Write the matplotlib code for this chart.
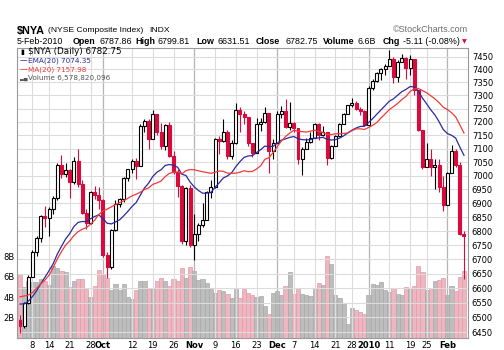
import matplotlib
matplotlib.use('Agg')
import matplotlib.pyplot as plt
from matplotlib.ticker import NullLocator, FixedLocator, FixedFormatter
import numpy as np
import pandas as pd

W, H = 504, 350

# trading days on the chart
holidays = ['2009-09-07', '2009-11-26', '2009-12-25', '2010-01-01', '2010-01-18']
dates = pd.bdate_range('2009-09-02', '2010-02-05')
dates = dates[~dates.isin(pd.to_datetime(holidays))]

# closes Aug 6 .. Sep 1 (needed for the 20-day MA at the left edge)
prior_close = [6491, 6578, 6556, 6473, 6548, 6593, 6537, 6378, 6443, 6487,
               6558, 6680, 6676, 6692, 6693, 6712, 6698, 6644, 6490]
ema_seed = 6553  # EMA(20) on Sep 1

close = [6472, 6547, 6640, 6727, 6775, 6852, 6845, 6880, 6918, 7040,
         7005, 7020, 6975, 7053, 6968, 6866, 6830, 6942, 6928, 6912,
         6716, 6672, 6802, 6898, 6915, 6990, 7023, 7055, 7036, 7185,
         7204, 7137, 7229, 7161, 7109, 7187, 7072, 7013, 6961, 6763,
         6955, 6750, 6790, 6823, 6841, 6940, 6960, 7135, 7128, 7160,
         7072, 7120, 7243, 7229, 7218, 7122, 7085, 7191, 7200, 7235,
         7090, 7120, 7230, 7240, 7180, 7195, 7175, 7060, 7100, 7125,
         7140, 7191, 7150, 7160, 7065, 7108, 7146, 7191, 7229, 7262,
         7270, 7250, 7240, 7188, 7330, 7357, 7385, 7400, 7415, 7440,
         7370, 7430, 7445, 7404, 7440, 7320, 7170, 7032, 7060, 7030,
         7040, 6958, 6895, 7010, 7090, 7040, 6787.86, 6782.75]
high = [6507, 6552, 6645, 6732, 6782, 6856, 6888, 6885, 6925, 7045,
        7075, 7045, 7025, 7068, 7097, 6985, 6880, 6945, 6962, 6958,
        6915, 6725, 6806, 6910, 6920, 6995, 7025, 7060, 7065, 7190,
        7210, 7210, 7245, 7230, 7195, 7190, 7200, 7090, 7025, 6965,
        6960, 6965, 6860, 6830, 6900, 6945, 6985, 7138, 7145, 7210,
        7170, 7130, 7271, 7255, 7240, 7218, 7122, 7215, 7215, 7255,
        7235, 7135, 7240, 7260, 7285, 7276, 7200, 7175, 7105, 7140,
        7160, 7195, 7195, 7185, 7160, 7115, 7150, 7195, 7232, 7265,
        7290, 7280, 7255, 7245, 7335, 7362, 7392, 7405, 7420, 7474,
        7450, 7435, 7460, 7450, 7455, 7440, 7320, 7170, 7122, 7100,
        7060, 7060, 7000, 7015, 7115, 7100, 7050, 6799.81]
low = [6447, 6465, 6545, 6640, 6712, 6760, 6815, 6782, 6860, 6912,
       6990, 6995, 6920, 6970, 6960, 6860, 6808, 6825, 6915, 6880,
       6710, 6634, 6665, 6800, 6885, 6905, 6980, 7010, 6986, 7036,
       7160, 7097, 7135, 7150, 7100, 7095, 7068, 7005, 6923, 6755,
       6750, 6745, 6698, 6765, 6815, 6840, 6920, 6955, 7078, 7125,
       7060, 7060, 7118, 7160, 7190, 7110, 7070, 7085, 7165, 7195,
       7011, 7060, 7120, 7215, 7175, 7170, 7160, 7041, 7004, 7100,
       7120, 7140, 7130, 7145, 7040, 7060, 7108, 7146, 7190, 7229,
       7255, 7245, 7225, 7185, 7188, 7320, 7350, 7360, 7380, 7415,
       7346, 7352, 7430, 7363, 7380, 7300, 7165, 7025, 7030, 7000,
       6950, 6940, 6870, 6895, 7010, 7030, 6785, 6631.51]
volume_b = [6.13, 4.98, 5.6, 5.5, 5.5, 5.8, 5.6, 5.15, 7.1, 6.9,
            6.55, 6.45, 4.98, 5.6, 5.8, 5.8, 4.8, 4.0, 5.1, 6.7,
            6.3, 5.9, 4.66, 5.25, 4.66, 5.3, 4.0, 3.84, 4.66, 5.6,
            5.6, 4.82, 4.82, 5.6, 5.9, 5.6, 5.05, 5.8, 5.6, 6.9,
            5.9, 7.0, 6.55, 5.7, 5.8, 5.4, 4.8, 4.4, 4.66, 4.56,
            4.3, 3.96, 4.8, 3.96, 4.8, 4.4, 4.2, 4.0, 4.1, 3.1,
            2.4, 4.4, 4.56, 4.2, 5.05, 6.45, 4.3, 4.9, 4.3, 4.25,
            4.1, 4.8, 5.4, 5.15, 8.0, 7.3, 4.2, 3.9, 3.3, 1.35,
            2.9, 2.7, 2.5, 2.35, 4.2, 5.3, 5.15, 5.5, 4.66, 4.5,
            4.9, 4.3, 4.2, 5.0, 4.9, 5.05, 7.1, 6.5, 4.66, 4.9,
            5.6, 5.7, 5.9, 4.25, 5.05, 4.56, 6.0, 6.58]

tick_dates = ['2009-09-08', '2009-09-14', '2009-09-21', '2009-09-28', '2009-10-01',
              '2009-10-12', '2009-10-19', '2009-10-26', '2009-11-02', '2009-11-09',
              '2009-11-16', '2009-11-23', '2009-12-01', '2009-12-07', '2009-12-14',
              '2009-12-21', '2009-12-28', '2010-01-04', '2010-01-11', '2010-01-19',
              '2010-01-25', '2010-02-01']
tick_labels = ['8', '14', '21', '28', 'Oct', '12', '19', '26', 'Nov', '9', '16', '23',
               'Dec', '7', '14', '21', '28', '2010', '11', '19', '25', 'Feb']
price_ticks = list(range(6450, 7451, 50))

RED = '#DA0A3C'
BLUE = '#2A2A9E'
MARED = '#F23A3A'

close = np.array(close)
high = np.array(high)
low = np.array(low)
vol = np.array(volume_b) * 1e9
# index opens are the previous close (header: Open = prior close)
opens = np.r_[prior_close[-1], close[:-1]]
up = close >= opens

ma = pd.Series(np.r_[prior_close, close]).rolling(20).mean().values[len(prior_close):]
ema = []
e = ema_seed
for c in close:
    e = e + 2 / 21 * (c - e)
    ema.append(e)

x = np.arange(len(close))

fig = plt.figure(figsize=(W / 100, H / 100), dpi=100)
L, R, T, B = 17.3, 467.7, 48.3, 338.0
ax = fig.add_axes([L / W, 1 - B / H, (R - L) / W, (B - T) / H])
axv = ax.twinx()
ax.set_zorder(axv.get_zorder() + 1)
ax.patch.set_visible(False)

# volume underlay
vcol = np.where(up, '#BDBDBD', '#EEB6C0')
vedge = np.where(up, '#A8A8A8', '#E29CA8')
axv.bar(x, vol, width=1.0, color=vcol, edgecolor=vedge, linewidth=0.5)
axv.set_ylim(0, 28.4e9)
axv.yaxis.set_ticks_position('left')
axv.set_yticks([2e9, 4e9, 6e9, 8e9])
axv.set_yticklabels(['2B', '4B', '6B', '8B'])
axv.tick_params(axis='y', length=0, pad=2, labelsize=6, labelleft=True, labelright=False)
for s in axv.spines.values():
    s.set_visible(False)

# price
ax.set_yscale('log')
ax.set_ylim(6429.8, 7482.5)
ax.set_xlim(-0.65, 107.9)
ax.yaxis.set_major_locator(FixedLocator(price_ticks))
ax.yaxis.set_major_formatter(FixedFormatter([str(p) for p in price_ticks]))
ax.yaxis.set_minor_locator(NullLocator())
ax.yaxis.tick_right()
ax.tick_params(axis='y', length=0, pad=3, labelsize=6)
ax.grid(axis='y', color='#DCDCDC', linewidth=0.8, zorder=0)

tick_idx = [dates.get_loc(pd.Timestamp(d)) for d in tick_dates]
month = [not lab.isdigit() or lab == '2010' for lab in tick_labels]
for i, m in zip(tick_idx, month):
    ax.axvline(i, color='#B4B4B4' if m else '#DCDCDC', linewidth=0.9 if m else 0.8, zorder=0)
ax.set_xticks(tick_idx)
ax.set_xticklabels(tick_labels)
ax.tick_params(axis='x', length=0, pad=2, labelsize=6)
for lab, m in zip(ax.get_xticklabels(), month):
    if m:
        lab.set_fontweight('bold')
for s in ax.spines.values():
    s.set_color('#9A9A9A')
    s.set_linewidth(0.8)

edge = np.where(up, 'black', RED)
face = np.where(up, 'white', RED)
ax.vlines(x, low, high, colors=edge, linewidth=0.8, zorder=3)
bot = np.minimum(opens, close)
hgt = np.maximum(np.abs(close - opens), 1.0)
ax.bar(x, hgt, bottom=bot, width=0.72, color=face, edgecolor=edge, linewidth=0.8, zorder=4)

ax.plot(x, ema, color=BLUE, linewidth=0.9, zorder=5)
ax.plot(x, ma, color=MARED, linewidth=0.9, zorder=5)


def put(px, py, s, **kw):
    fig.text(px / W, 1 - py / H, s, va='center', ha=kw.pop('ha', 'left'), **kw)


hf = 'Liberation Sans'
put(17, 31, '$NYA', fontsize=7.8, fontweight='bold', family=hf)
put(48, 31, '(NYSE Composite Index)', fontsize=6.1, family=hf)
put(149, 31, 'INDX', fontsize=6.1, family=hf)
put(468, 30, '\u00a9StockCharts.com', fontsize=6.5, family=hf, color='#6E6E6E', ha='right')

row2 = [(17, '5-Feb-2010', 'normal'), (73, 'Open', 'bold'), (99, '6787.86', 'normal'),
        (135, 'High', 'bold'), (157, '6799.81', 'normal'), (196, 'Low', 'bold'),
        (218, '6631.51', 'normal'), (256, 'Close', 'bold'), (285, '6782.75', 'normal'),
        (323, 'Volume', 'bold'), (358, '6.6B', 'normal'), (383, 'Chg', 'bold'),
        (403, '-5.11 (-0.08%)', 'normal')]
for px, s, wt in row2:
    put(px, 41.5, s, fontsize=6.4, fontweight=wt, family=hf)
put(462, 41.5, '\u25bc', fontsize=4.5, color=RED)

# legend block inside the chart
put(20, 51.8, '\u25ae', fontsize=5, color='black')
put(28, 51.8, '$NYA (Daily) 6782.75', fontsize=6.3)
put(20, 60.7, '\u2014', fontsize=5.5, color=BLUE)
put(28, 60.7, 'EMA(20) 7074.35', fontsize=5.2, color=BLUE)
put(20, 69.3, '\u2014', fontsize=5.5, color=MARED)
put(28, 69.3, 'MA(20) 7157.98', fontsize=5.2, color=MARED)
put(20, 78.2, '\u2583\u2585', fontsize=3.5, color='#555555')
put(28, 78.2, 'Volume 6,578,820,096', fontsize=5.2, color='#555555')

fig.savefig('out.png', dpi=100)
